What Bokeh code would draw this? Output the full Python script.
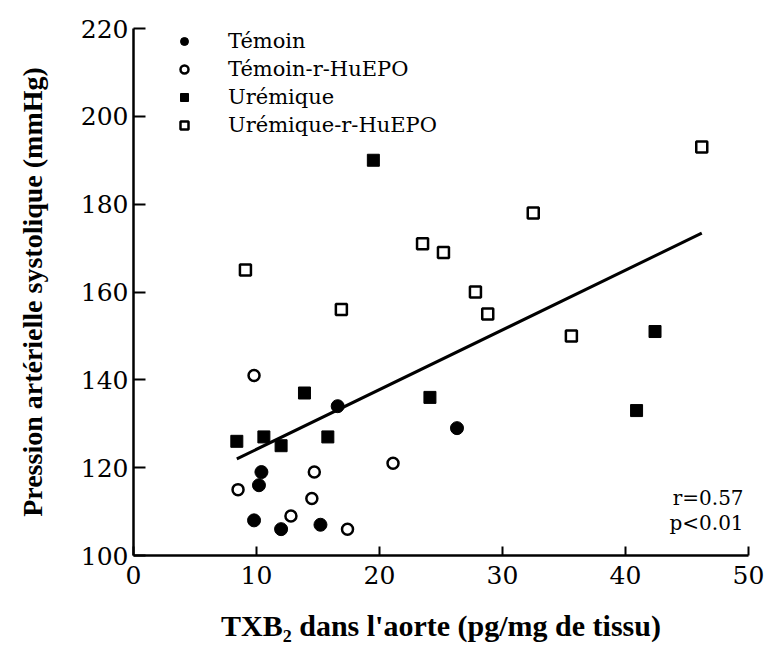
from bokeh.plotting import figure
from bokeh.models import Legend, LegendItem, Label, Range1d, FixedTicker
from bokeh.embed import file_html
from bokeh.resources import INLINE

# TXB2 in the aorta (pg/mg tissue) vs systolic blood pressure (mmHg)
temoin_x = [10.4, 10.2, 9.8, 12.0, 15.2, 16.6, 26.3]
temoin_y = [119, 116, 108, 106, 107, 134, 129]

temoin_epo_x = [9.8, 8.5, 14.7, 14.5, 12.8, 17.4, 21.1]
temoin_epo_y = [141, 115, 119, 113, 109, 106, 121]

uremique_x = [8.4, 10.6, 12.0, 13.9, 15.8, 24.1, 19.5, 42.4, 40.9]
uremique_y = [126, 127, 125, 137, 127, 136, 190, 151, 133]

uremique_epo_x = [9.1, 16.9, 23.5, 25.2, 46.2, 32.5, 27.8, 28.8, 35.6]
uremique_epo_y = [165, 156, 171, 169, 193, 178, 160, 155, 150]

# regression line end points
fit_x = [8.4, 46.2]
fit_y = [122.0, 173.4]

x_ticks = [0, 10, 20, 30, 40, 50]
y_ticks = [100, 120, 140, 160, 180, 200, 220]

SERIF = "DejaVu Serif"
BOLD = "Liberation Serif"

p = figure(width=768, height=653, output_backend="svg", toolbar_location=None,
           x_range=Range1d(0, 50), y_range=Range1d(100, 220),
           min_border_left=133, min_border_right=20,
           min_border_top=28, min_border_bottom=98)
p.outline_line_color = None
p.grid.visible = False
p.background_fill_color = "white"
p.border_fill_color = "white"

for ax in (p.xaxis[0], p.yaxis[0]):
    ax.axis_line_width = 2.5
    ax.axis_line_color = "black"
    ax.major_tick_line_width = 2
    ax.major_tick_line_color = "black"
    ax.major_tick_out = 0
    ax.minor_tick_line_color = None
    ax.major_label_text_font = SERIF
    ax.major_label_text_font_size = "25px"
    ax.major_label_text_color = "black"
    ax.axis_label_text_font = BOLD
    ax.axis_label_text_font_style = "bold"
    ax.axis_label_text_color = "black"

p.xaxis.ticker = FixedTicker(ticks=x_ticks)
p.yaxis.ticker = FixedTicker(ticks=y_ticks)
p.xaxis.major_tick_in = 9
p.yaxis.major_tick_in = 12
p.xaxis.major_label_standoff = 10
p.yaxis.major_label_standoff = 5

p.xaxis.axis_label = "TXB\u2082 dans l'aorte (pg/mg de tissu)"
p.xaxis.axis_label_text_font_size = "30px"
p.xaxis.axis_label_standoff = 22
p.yaxis.axis_label = "Pression artérielle systolique (mmHg)"
p.yaxis.axis_label_text_font_size = "28px"
p.yaxis.axis_label_standoff = 30

line = p.line(fit_x, fit_y, line_color="black", line_width=3)

r1 = p.scatter(temoin_x, temoin_y, marker="circle", size=13,
               fill_color="black", line_color="black")
r2 = p.scatter(temoin_epo_x, temoin_epo_y, marker="circle", size=11,
               fill_color="white", line_color="black", line_width=2.5)
r3 = p.scatter(uremique_x, uremique_y, marker="square", size=12,
               fill_color="black", line_color="black")
r4 = p.scatter(uremique_epo_x, uremique_epo_y, marker="square", size=11,
               fill_color="white", line_color="black", line_width=2.5)

legend = Legend(items=[
    LegendItem(label="Témoin", renderers=[r1]),
    LegendItem(label="Témoin-r-HuEPO", renderers=[r2]),
    LegendItem(label="Urémique", renderers=[r3]),
    LegendItem(label="Urémique-r-HuEPO", renderers=[r4]),
], location=(41, 418), margin=0, padding=0, spacing=4,
    glyph_width=20, glyph_height=20, label_height=20,
    label_standoff=34, border_line_color=None, background_fill_alpha=0,
    label_text_font=SERIF, label_text_font_size="21px", label_text_color="black")
p.add_layout(legend)

p.add_layout(Label(x=49.6, y=113.2, text="r=0.57", text_font=SERIF,
                   text_font_size="20px", text_align="right",
                   text_baseline="middle", text_color="black"))
p.add_layout(Label(x=49.6, y=107.3, text="p<0.01", text_font=SERIF,
                   text_font_size="20px", text_align="right",
                   text_baseline="middle", text_color="black"))

open("out.html", "w").write(file_html(p, INLINE))
